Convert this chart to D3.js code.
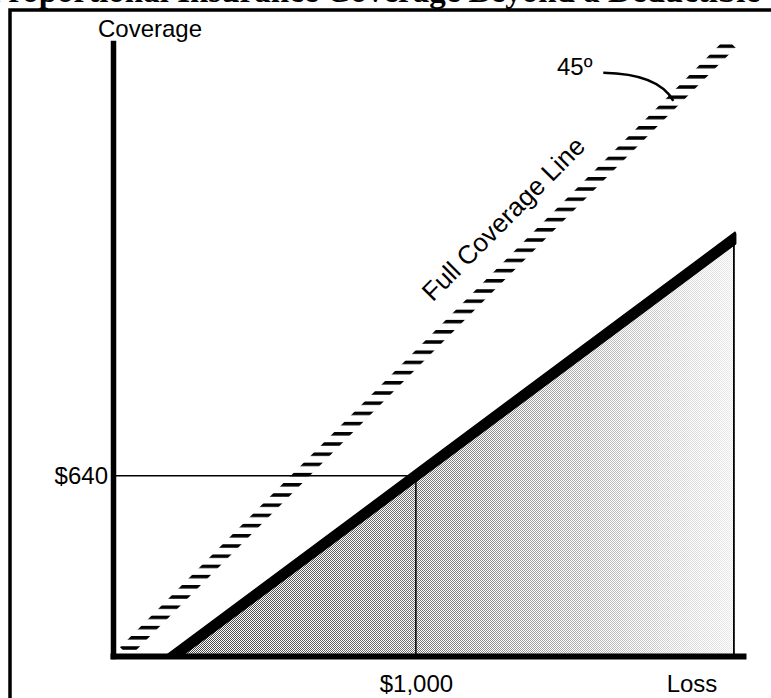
<!DOCTYPE html>
<html>
<head>
<meta charset="utf-8">
<script src="https://cdn.jsdelivr.net/npm/d3@7"></script>
<style>
  html, body { margin: 0; padding: 0; background: #fff; }
  svg { display: block; }
  text { font-family: "Liberation Sans", Arial, Helvetica, sans-serif; fill: #000; }
</style>
</head>
<body>
<script>
// ---- data ----
const titleText = "Proportional Insurance Coverage Beyond a Deductible";
const lossDomain = [0, 2080];
const coverageDomain = [0, 2176];
// proportional coverage line (80% of loss above a $200 deductible)
const coverageLoss = [200, 1000, 2050];
const coverageAmount = [0, 640, 1480];
// full coverage (45 degree) line, as drawn
const fullLoss = [39, 2040];
const fullCoverage = [14, 2176];
// guide point and tick labels
const lossTicks = [1000];
const coverageTicks = [640];
const lossTickLabels = ["$1,000"];
const coverageTickLabels = ["$640"];
const angleLabel = "45º";
const fullLineLabel = "Full Coverage Line";

// ---- setup ----
const W = 771, H = 698;
const svg = d3.select("body").append("svg").attr("width", W).attr("height", H);
const x = d3.scaleLinear().domain(lossDomain).range([113, 743]);
const y = d3.scaleLinear().domain(coverageDomain).range([656, 43]);

const defs = svg.append("defs");
// horizontal stripe pattern for the full coverage line
const stripeGap = 10.2;
const firstDashY = 648;
defs.append("pattern").attr("id", "stripes")
  .attr("patternUnits", "userSpaceOnUse")
  .attr("x", 0).attr("y", firstDashY - 1.75)
  .attr("width", 20).attr("height", stripeGap)
  .append("rect").attr("x", 0).attr("y", 0).attr("width", 20).attr("height", 3.5).attr("fill", "#000");
// stipple pattern
const stip = defs.append("pattern").attr("id", "stipple")
  .attr("patternUnits", "userSpaceOnUse").attr("width", 2).attr("height", 2);
stip.append("rect").attr("x", 0).attr("y", 0).attr("width", 1).attr("height", 1).attr("fill", "#444");
stip.append("rect").attr("x", 1).attr("y", 1).attr("width", 1).attr("height", 1).attr("fill", "#444");
const grad = defs.append("linearGradient").attr("id", "fade")
  .attr("gradientUnits", "userSpaceOnUse")
  .attr("x1", x(coverageLoss[0])).attr("x2", x(coverageLoss[2])).attr("y1", 0).attr("y2", 0);
grad.append("stop").attr("offset", 0).attr("stop-color", "#ffffff");
grad.append("stop").attr("offset", 0.43).attr("stop-color", "#c0c0c0");
grad.append("stop").attr("offset", 1).attr("stop-color", "#202020");
defs.append("mask").attr("id", "fadeMask")
  .append("rect").attr("x", 0).attr("y", 0).attr("width", W).attr("height", H).attr("fill", "url(#fade)");
defs.append("clipPath").attr("id", "plotClip")
  .append("rect").attr("x", x(0)).attr("y", 0)
  .attr("width", x(coverageLoss[2]) + 2.5 - x(0)).attr("height", y(0));

// ---- title (cut off at top, as in the source) and frame ----
svg.append("text").attr("x", -12).attr("y", 2)
  .style("font-family", '"Liberation Serif", "Times New Roman", serif')
  .style("font-weight", "bold").style("font-size", "33px")
  .text(titleText);
svg.append("path").attr("d", `M10,${H} V10 H${W}`)
  .attr("fill", "none").attr("stroke", "#000").attr("stroke-width", 3.5);

// ---- shaded area under the coverage line ----
const pts = coverageLoss.map((l, i) => [l, coverageAmount[i]]);
const area = d3.area().x(d => x(d[0])).y0(y(0)).y1(d => y(d[1]));
svg.append("path").datum(pts).attr("d", area)
  .attr("fill", "url(#stipple)").attr("mask", "url(#fadeMask)");

// ---- guide lines ----
svg.append("path")
  .attr("d", `M${x(0)},${y(coverageTicks[0])} H${x(lossTicks[0])} V${y(0)}`)
  .attr("fill", "none").attr("stroke", "#000").attr("stroke-width", 1.5);
svg.append("line")
  .attr("x1", x(coverageLoss[2])).attr("x2", x(coverageLoss[2]))
  .attr("y1", y(coverageAmount[2])).attr("y2", y(0))
  .attr("stroke", "#000").attr("stroke-width", 1.8);

// ---- full coverage line (horizontal dashes) ----
const fullPts = fullLoss.map((l, i) => [l, fullCoverage[i]]);
const line = d3.line().x(d => x(d[0])).y(d => y(d[1]));
svg.append("path").datum(fullPts).attr("d", line)
  .attr("fill", "none").attr("stroke", "url(#stripes)").attr("stroke-width", 13.5);

// ---- proportional coverage line ----
svg.append("g").attr("clip-path", "url(#plotClip)")
  .append("path").datum(pts).attr("d", line)
  .attr("fill", "none").attr("stroke", "#000").attr("stroke-width", 11)
  .attr("stroke-linecap", "square");

// ---- axes ----
const fmt = (arr, labels) => d => labels[arr.indexOf(d)];
const xAxis = svg.append("g").attr("transform", `translate(0,${y(0)})`)
  .call(d3.axisBottom(x).tickValues(lossTicks).tickFormat(fmt(lossTicks, lossTickLabels))
    .tickSize(0).tickSizeOuter(0).tickPadding(19));
const yAxis = svg.append("g").attr("transform", `translate(${x(0)},0)`)
  .call(d3.axisLeft(y).tickValues(coverageTicks).tickFormat(fmt(coverageTicks, coverageTickLabels))
    .tickSize(0).tickSizeOuter(0).tickPadding(5));
[xAxis, yAxis].forEach(g => {
  g.select(".domain").attr("stroke", "#000").attr("stroke-width", 6).attr("stroke-linecap", "square");
  g.selectAll("text").style("font-family", '"Liberation Sans", Arial, sans-serif')
    .style("font-size", "24px").attr("fill", "#000");
});
yAxis.select(".domain").attr("stroke-width", 5.5);

// ---- axis titles ----
svg.append("text").attr("x", 98).attr("y", 37).style("font-size", "24px").text("Coverage");
svg.append("text").attr("x", 692).attr("y", 692).attr("text-anchor", "middle")
  .style("font-size", "24px").text("Loss");

// ---- full coverage label ----
const p0 = [x(fullLoss[0]), y(fullCoverage[0])];
const p1 = [x(fullLoss[1]), y(fullCoverage[1])];
const ang = Math.atan2(p1[1] - p0[1], p1[0] - p0[0]) * 180 / Math.PI;
const t = 0.541;
const anchor = [p0[0] + (p1[0] - p0[0]) * t - 20, p0[1] + (p1[1] - p0[1]) * t - 20];
svg.append("text").attr("transform", `translate(${anchor[0]},${anchor[1]}) rotate(${ang})`)
  .attr("text-anchor", "start").style("font-size", "26px").text(fullLineLabel);

// ---- 45 degree annotation ----
svg.append("text").attr("x", 557).attr("y", 75).style("font-size", "24px").text(angleLabel);
const tAng = 0.905;
const target = [p0[0] + (p1[0] - p0[0]) * tAng, p0[1] + (p1[1] - p0[1]) * tAng];
const start = [target[0] - 70, target[1] - 28];
svg.append("path")
  .attr("d", `M${start[0]},${start[1]} Q${target[0] - 15},${start[1] + 1} ${target[0]},${target[1]}`)
  .attr("fill", "none").attr("stroke", "#000").attr("stroke-width", 2.5);
</script>
</body>
</html>
